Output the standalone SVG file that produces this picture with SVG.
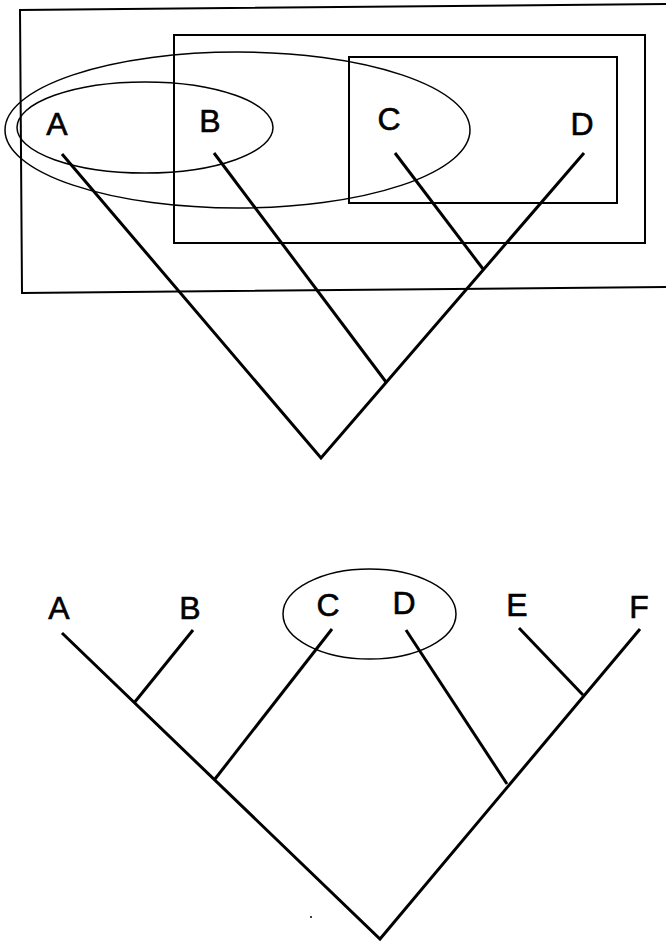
<svg xmlns="http://www.w3.org/2000/svg" width="666" height="943" viewBox="0 0 666 943">
<style>
.bg{fill:#fff}
.box{fill:none;stroke:#000;stroke-width:2}
.ell{fill:none;stroke:#000;stroke-width:1.5}
.edge{fill:none;stroke:#000;stroke-width:3;stroke-linecap:butt;stroke-linejoin:miter}
.lbl{font-family:"Liberation Sans",Arial,sans-serif;fill:#000;text-anchor:middle;stroke:#000;stroke-width:0.6}
.t{font-size:32px}
.b{font-size:32px}
</style>
<rect class="bg" x="0" y="0" width="666" height="943"/>
<g id="sets">
  <path id="outer-box" class="box" d="M666,4 L20,10 L22,293 L666,287"/>
  <rect id="middle-box" class="box" x="174" y="35" width="471" height="208"/>
  <rect id="inner-box" class="box" x="349" y="57" width="268" height="146"/>
  <ellipse id="big-ellipse" class="ell" cx="237.5" cy="130" rx="232.5" ry="78"/>
  <ellipse id="small-ellipse" class="ell" cx="145" cy="127.5" rx="128" ry="45.5"/>
  <ellipse id="cd-ellipse" class="ell" cx="369.5" cy="614" rx="86.5" ry="45"/>
</g>
<g id="connectors">
  <polyline class="edge" points="62,154 321,458 584,153"/>
  <line class="edge" x1="214" y1="153" x2="386" y2="382"/>
  <line class="edge" x1="395" y1="153" x2="483" y2="269"/>
  <polyline class="edge" points="62,633 380,939 640,629"/>
  <line class="edge" x1="193" y1="630" x2="134" y2="703"/>
  <line class="edge" x1="332" y1="629" x2="215" y2="779"/>
  <line class="edge" x1="406" y1="630" x2="507" y2="784"/>
  <line class="edge" x1="519" y1="628" x2="583" y2="695"/>
</g>
<g id="top-A"><text class="lbl t" x="57" y="135">A</text></g>
<g id="top-B"><text class="lbl t" x="210" y="132">B</text></g>
<g id="top-C"><text class="lbl t" x="389" y="130">C</text></g>
<g id="top-D"><text class="lbl t" x="582" y="135">D</text></g>
<g id="bot-A"><text class="lbl b" x="59" y="619">A</text></g>
<g id="bot-B"><text class="lbl b" x="190" y="619">B</text></g>
<g id="bot-C"><text class="lbl b" x="328" y="616">C</text></g>
<g id="bot-D"><text class="lbl b" x="404" y="614">D</text></g>
<g id="bot-E"><text class="lbl b" x="517" y="616">E</text></g>
<g id="bot-F"><text class="lbl b" x="639" y="618">F</text></g>
<circle cx="311" cy="917" r="1" fill="#000"/>
</svg>
